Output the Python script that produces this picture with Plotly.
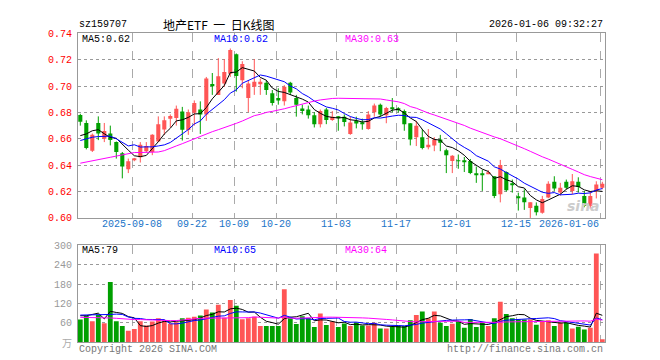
import numpy as np
import pandas as pd
import plotly.graph_objects as go

# ---------------- data ----------------
open_ = [0.678, 0.672, 0.651, 0.672, 0.660, 0.664, 0.6575, 0.649, 0.637, 0.6443,
         0.646, 0.6506, 0.650, 0.658, 0.667, 0.6753, 0.6758, 0.6807, 0.6666, 0.6797,
         0.6822, 0.6785, 0.7015, 0.6933, 0.702, 0.7094, 0.7242, 0.7044, 0.6909, 0.6995,
         0.702, 0.7025, 0.6946, 0.6909, 0.6884, 0.7025, 0.6909, 0.683, 0.6822, 0.6778,
         0.6711, 0.6822, 0.6743, 0.6768, 0.6768, 0.6637, 0.6736, 0.6723, 0.6674, 0.6802,
         0.6859, 0.6778, 0.6834, 0.6829, 0.681, 0.6718, 0.6612, 0.6612, 0.6536, 0.655,
         0.6595, 0.6513, 0.6432, 0.6437, 0.6432, 0.6432, 0.6330, 0.6330, 0.6338, 0.6316,
         0.618, 0.6348, 0.6256, 0.6157, 0.6155, 0.6076, 0.6093, 0.6039, 0.6155, 0.6274,
         0.6192, 0.6274, 0.6205, 0.6274, 0.6167, 0.6093, 0.6205, 0.6229]
high = [0.679, 0.674, 0.664, 0.677, 0.672, 0.670, 0.658, 0.650, 0.645, 0.6455,
        0.6575, 0.6575, 0.6635, 0.677, 0.677, 0.6785, 0.6852, 0.6842, 0.6822, 0.6891,
        0.6884, 0.7069, 0.7099, 0.7212, 0.7205, 0.7285, 0.7247, 0.7188, 0.7044, 0.7205,
        0.7057, 0.7044, 0.697, 0.6983, 0.7007, 0.7032, 0.6933, 0.6859, 0.6852, 0.6802,
        0.6822, 0.6834, 0.681, 0.6773, 0.6785, 0.6768, 0.6768, 0.6753, 0.681, 0.6867,
        0.6867, 0.6842, 0.6909, 0.684, 0.6822, 0.6718, 0.6736, 0.6674, 0.6674, 0.6612,
        0.663, 0.6525, 0.6476, 0.6481, 0.6462, 0.6447, 0.639, 0.6365, 0.6362, 0.6316,
        0.644, 0.6353, 0.6291, 0.6192, 0.6217, 0.6118, 0.6118, 0.6167, 0.6278, 0.6316,
        0.6266, 0.6291, 0.6333, 0.6308, 0.6204, 0.6204, 0.6278, 0.6274]
low = [0.670, 0.652, 0.650, 0.659, 0.6575, 0.655, 0.645, 0.630, 0.634, 0.643,
       0.642, 0.6496, 0.6476, 0.658, 0.663, 0.6686, 0.670, 0.6587, 0.663, 0.670,
       0.6637, 0.6736, 0.6933, 0.6933, 0.6995, 0.7069, 0.6958, 0.6983, 0.6802, 0.6933,
       0.6933, 0.6933, 0.6852, 0.6859, 0.6852, 0.6933, 0.6768, 0.6785, 0.6753, 0.6686,
       0.6686, 0.6711, 0.6736, 0.6661, 0.6694, 0.663, 0.6679, 0.6669, 0.6669, 0.6768,
       0.6768, 0.6718, 0.6802, 0.680, 0.6661, 0.655, 0.6545, 0.652, 0.652, 0.6506,
       0.6506, 0.634, 0.634, 0.6373, 0.6348, 0.6332, 0.6266, 0.6205, 0.6332, 0.615,
       0.6118, 0.620, 0.6192, 0.6056, 0.6061, 0.600, 0.6019, 0.6032, 0.615, 0.6205,
       0.617, 0.6217, 0.618, 0.6192, 0.6081, 0.6069, 0.6148, 0.6217]
close = [0.673, 0.653, 0.663, 0.664, 0.666, 0.659, 0.650, 0.639, 0.643, 0.6448,
         0.6555, 0.6546, 0.663, 0.671, 0.674, 0.6773, 0.6827, 0.6669, 0.6802, 0.6871,
         0.6785, 0.7057, 0.700, 0.7074, 0.7106, 0.7274, 0.7076, 0.7168, 0.702, 0.7032,
         0.7032, 0.697, 0.6871, 0.6891, 0.6995, 0.6951, 0.6859, 0.681, 0.6778, 0.6711,
         0.681, 0.6743, 0.6768, 0.676, 0.6728, 0.6723, 0.6716, 0.6711, 0.6785, 0.6852,
         0.6785, 0.6834, 0.6829, 0.6822, 0.6711, 0.6595, 0.6699, 0.6531, 0.6555, 0.6595,
         0.657, 0.6476, 0.6471, 0.6432, 0.6427, 0.634, 0.6326, 0.6326, 0.6342, 0.6167,
         0.6402, 0.621, 0.6252, 0.6153, 0.6118, 0.6118, 0.6044, 0.6143, 0.6259, 0.6224,
         0.6229, 0.6229, 0.6279, 0.6234, 0.6093, 0.6167, 0.6254, 0.6259]
volume = [70, 82, 65, 85, 59, 187, 65, 50, 35, 41,
          65, 52, 64, 74, 67, 57, 62, 74, 76, 79,
          83, 101, 92, 116, 76, 131, 113, 71, 74, 79,
          50, 50, 50, 50, 164, 74, 56, 80, 74, 47,
          89, 53, 64, 47, 58, 50, 60, 52, 52, 60,
          42, 42, 47, 52, 50, 68, 84, 95, 74, 95,
          60, 50, 57, 64, 45, 72, 47, 60, 50, 74,
          125, 87, 74, 70, 70, 70, 54, 64, 68, 50,
          60, 60, 42, 48, 39, 45, 275, 9]

# moving-average values before enough history is visible
ma5_head = [0.6624, 0.6637, 0.6661, 0.6669]
ma10_head = [0.6587, 0.6600, 0.6612, 0.6617, 0.6620, 0.6620, 0.6600, 0.6575, 0.6546]
ma30_head = [0.6415, 0.6423, 0.6431, 0.6440, 0.6450, 0.6460, 0.6469, 0.6479, 0.6489, 0.6496,
             0.6496, 0.6496, 0.6496, 0.6500, 0.6510, 0.6530, 0.6546, 0.6563, 0.6582, 0.6600,
             0.6618, 0.6637, 0.6654, 0.6669, 0.6684, 0.6699, 0.6717, 0.6735, 0.6753]
vma5_head = [82, 82, 86, 90]
vma10_head = [84, 84, 84, 84, 84, 86, 87, 86, 78]
vma30_head = [77, 77, 76, 76, 75, 75, 74, 72, 71, 70, 70, 69, 68, 67, 67, 67, 67, 68, 69,
              72, 74, 74, 75, 76, 76, 76, 76, 76, 76]

tick_labels = ["2025-09-08", "09-22", "10-09", "10-20", "11-03", "11-17", "12-01", "12-15", "2026-01-06"]
tick_index = [9, 19, 26, 33, 43, 53, 63, 73, 87]
price_ticks = [0.60, 0.62, 0.64, 0.66, 0.68, 0.70, 0.72, 0.74]
vol_ticks = [60, 120, 180, 240, 300]

# ---------------- helpers ----------------
W, H = 660, 360
def fx(px):
    return px / W
def fy(py):
    return 1 - py / H

def ma(values, n, head):
    s = pd.Series(values, dtype=float).rolling(n).mean().to_numpy()
    s[:n - 1] = head
    return s

RED = "#ff5555"
GREEN = "#00a000"
n = len(close)
idx = list(range(n))
up = [c >= o for o, c in zip(open_, close)]
colors = [RED if u else GREEN for u in up]

fig = go.Figure()

# wicks
for flag, col in ((True, RED), (False, GREEN)):
    xs, ys = [], []
    for i in idx:
        if up[i] == flag:
            xs += [i, i, None]
            ys += [low[i], high[i], None]
    fig.add_trace(go.Scatter(x=xs, y=ys, mode="lines", line=dict(color=col, width=1),
                             xaxis="x", yaxis="y", hoverinfo="skip", showlegend=False))

# bodies
base = [min(o, c) for o, c in zip(open_, close)]
hgt = [max(abs(c - o), 0.0005) for o, c in zip(open_, close)]
fig.add_trace(go.Bar(x=idx, y=hgt, base=base, width=0.68, marker=dict(color=colors, line=dict(width=0)),
                     xaxis="x", yaxis="y", showlegend=False))

# price MAs
for vals, nwin, head, col in ((close, 5, ma5_head, "#000000"), (close, 10, ma10_head, "#0000ff"),
                              (close, 30, ma30_head, "#ff00ff")):
    fig.add_trace(go.Scatter(x=idx, y=ma(vals, nwin, head), mode="lines", line=dict(color=col, width=1),
                             xaxis="x", yaxis="y", showlegend=False))

# volume
fig.add_trace(go.Bar(x=idx, y=volume, width=0.8, marker=dict(color=colors, line=dict(width=0)),
                     xaxis="x2", yaxis="y2", showlegend=False))
for nwin, head, col in ((5, vma5_head, "#000000"), (10, vma10_head, "#0000ff"), (30, vma30_head, "#ff00ff")):
    fig.add_trace(go.Scatter(x=idx, y=ma(volume, nwin, head), mode="lines", line=dict(color=col, width=1),
                             xaxis="x2", yaxis="y2", showlegend=False))

grid_pos = [t - 0.33 for t in tick_index]
xr = [-0.383, 87.45]
MONO = "Liberation Mono, DejaVu Sans Mono, monospace"
xcommon = dict(domain=[fx(70), fx(597)], range=xr, tickvals=grid_pos, showticklabels=False,
               showgrid=True, gridcolor="#aaaaaa", griddash="dash", gridwidth=1,
               showline=True, mirror=True, linecolor="#999999", linewidth=1,
               zeroline=False, ticks="", fixedrange=True)

fig.update_layout(
    width=W, height=H, autosize=False, margin=dict(l=0, r=0, t=0, b=0),
    paper_bgcolor="white", plot_bgcolor="white", barmode="overlay", showlegend=False,
    xaxis=dict(anchor="y", **xcommon),
    xaxis2=dict(anchor="y2", **xcommon),
    yaxis=dict(domain=[fy(212), fy(21)], range=[0.60, 0.74], tickvals=price_ticks,
               ticktext=["%.2f" % v for v in price_ticks],
               tickfont=dict(family=MONO, size=10, color="#ff0000"),
               showgrid=True, gridcolor="#999999", griddash="dot", gridwidth=1,
               showline=True, mirror=True, linecolor="#999999", linewidth=1,
               zeroline=False, ticks="", ticklabelstandoff=3),
    yaxis2=dict(domain=[fy(340.5), fy(240.5)], range=[0, 300], tickvals=vol_ticks,
                ticktext=[str(v) for v in vol_ticks],
                tickfont=dict(family=MONO, size=10, color="#999999"),
                showgrid=True, gridcolor="#999999", griddash="dot", gridwidth=1,
                showline=True, mirror=True, linecolor="#999999", linewidth=1,
                zeroline=False, ticks="", ticklabelstandoff=3),
)

ann = []
def text(px, py, s, color="#000000", anchor="left", size=10, family=MONO, **kw):
    ann.append(dict(x=fx(px), y=fy(py), xref="paper", yref="paper", text=s, showarrow=False,
                    xanchor=anchor, yanchor="middle", font=dict(family=family, size=size, color=color), **kw))

text(69, 12, "sz159707")
text(210, 11.5, "地产ETF&nbsp;&nbsp;一&nbsp;&nbsp;日K线图", anchor="center", size=12,
     family="Noto Sans CJK SC, sans-serif")
text(597, 12, "2026-01-06 09:32:27", anchor="right")
text(72, 27, "MA5:0.62")
text(204, 27, "MA10:0.62", color="#0000ff")
text(335, 27, "MA30:0.63", color="#ff00ff")
text(72, 246, "MA5:79")
text(204, 246, "MA10:65", color="#0000ff")
text(335, 246, "MA30:64", color="#ff00ff")
text(66, 341, "万", color="#aaaaaa", anchor="right", size=10, family="Noto Sans CJK SC, sans-serif")
text(69, 348, "Copyright 2026 SINA.COM", color="#777777")
text(597, 348, "http://finance.sina.com.cn", color="#777777", anchor="right")
text(594, 200, "<b><i>sina</i></b>", color="#cccccc", anchor="right", size=14,
     family="DejaVu Sans, sans-serif")

# date labels under the price panel
for lab, t in zip(tick_labels, grid_pos):
    px = 70 + (t - xr[0]) * (527 / (xr[1] - xr[0]))
    if lab == tick_labels[-1]:
        text(593, 219, lab, color="#1a74c8", anchor="right")
    else:
        text(px, 219, lab, color="#1a74c8", anchor="center")

fig.update_layout(annotations=ann)
fig.write_html("out.html")
